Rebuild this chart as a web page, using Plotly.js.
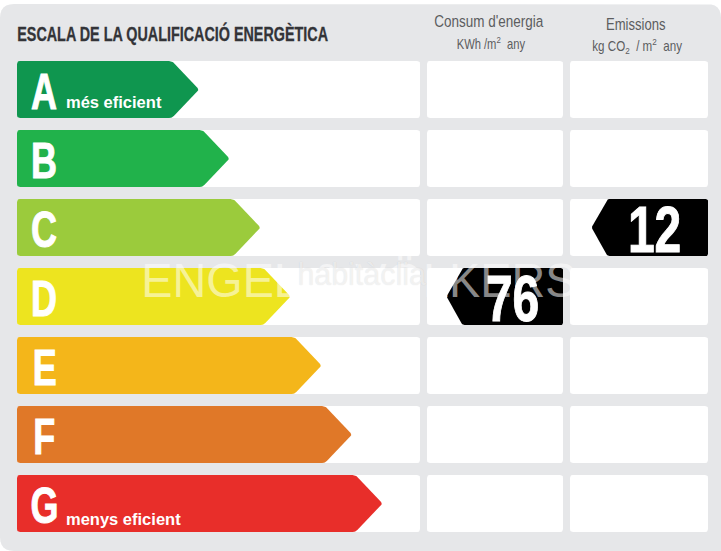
<!DOCTYPE html>
<html>
<head>
<meta charset="utf-8">
<script src="https://cdn.plot.ly/plotly-3.0.1.min.js"></script>
<style>html,body{margin:0;padding:0;background:#fff;overflow:hidden}#chart{width:721px;height:551px}</style>
</head>
<body>
<div id="chart"></div>
<script>
// ---- data ----
const grades = ['A','B','C','D','E','F','G'];
const gradeColors = ['#0f964f','#21b24b','#9bcb3c','#ede41f','#f4b61a','#e07828','#e82e2a'];
const arrowLengths = [182,212.5,243.5,273.5,304.5,335,365.5];
const gradeNotes = ['més eficient','','','','','','menys eficient'];
const consumValues = [null,null,null,76,null,null,null];
const emissionValues = [null,null,12,null,null,null,null];
const chartTitle = 'ESCALA DE LA QUALIFICACIÓ ENERGÈTICA';

// ---- layout constants (x axis is 1:1 with px, y axis is in rows) ----
const W = 721, H = 551, PITCH = 69, ROW0 = 89.5, HALF = 28.5, LEFT = 17, TIP = 27;
const COLS = [[17,420],[427,563],[570,708]];
const py = p => (p - ROW0) / PITCH;

function rounded(pts, radii){
  const xs = [], ys = [];
  pts.forEach((p,i) => {
    const n = pts.length, a = pts[(i+n-1)%n], b = pts[(i+1)%n];
    const r = Array.isArray(radii) ? radii[i] : radii;
    const la = Math.hypot(a[0]-p[0],a[1]-p[1]), lb = Math.hypot(b[0]-p[0],b[1]-p[1]);
    const s = [p[0]+(a[0]-p[0])*r/la, p[1]+(a[1]-p[1])*r/la];
    const e = [p[0]+(b[0]-p[0])*r/lb, p[1]+(b[1]-p[1])*r/lb];
    const N = r > 0 ? 6 : 1;
    for(let k=0;k<=N;k++){
      const t = k/N;
      xs.push((1-t)*(1-t)*s[0]+2*t*(1-t)*p[0]+t*t*e[0]);
      ys.push(py((1-t)*(1-t)*s[1]+2*t*(1-t)*p[1]+t*t*e[1]));
    }
  });
  xs.push(xs[0]); ys.push(ys[0]);
  return {x:xs,y:ys};
}
function poly(pts, radii, color){
  return Object.assign(rounded(pts,radii),{type:'scatter',mode:'lines',fill:'toself',
    fillcolor:color,line:{width:0,color:color},hoverinfo:'skip',showlegend:false});
}

const traces = [];
// panel
traces.push(poly([[0,4],[721,4],[721,551],[0,551]],[14,14,0,14],'#e6e7e9'));
// cells
grades.forEach((g,i)=>{
  const c = ROW0 + i*PITCH;
  COLS.forEach(col=>{
    traces.push(poly([[col[0],c-HALF],[col[1],c-HALF],[col[1],c+HALF],[col[0],c+HALF]],3,'#ffffff'));
  });
});
// rating arrows
grades.forEach((g,i)=>{
  const c = ROW0 + i*PITCH, tip = LEFT + arrowLengths[i];
  traces.push(poly([[LEFT,c-HALF],[tip-TIP,c-HALF],[tip,c],[tip-TIP,c+HALF],[LEFT,c+HALF]],[3,3,2,3,3],gradeColors[i]));
});
// result tags
function tag(values,col){
  values.forEach((v,i)=>{
    if(v===null) return;
    const c = ROW0 + i*PITCH, right = COLS[col][1], tipx = right-116.5, body = tipx+16;
    traces.push(poly([[tipx,c],[body,c-HALF],[right,c-HALF],[right,c+HALF],[body,c+HALF]],[1.5,2,2,2,2],'#000000'));
  });
}
tag(consumValues,1);
tag(emissionValues,2);

const SANS = '"Liberation Sans",Arial,sans-serif';
const GREY = '#5c5d5f';
const scales = [];
function note(text,x,yp,size,color,anchor,sx,extra,stroke){
  scales.push({sx:sx,origin:anchor==='left'?'left':'center',stroke:stroke||0,color:color});
  return {text:text,x:x,y:py(yp),xref:'x',yref:'y',showarrow:false,xanchor:anchor||'center',yanchor:'middle',
    align:'center',borderpad:0,borderwidth:0,font:Object.assign({size:size,color:color,family:SANS},extra||{})};
}
const ann = [];
ann.push(note('<b>'+chartTitle+'</b>',17,33,19.5,'#333438','left',0.737,null,0.3));
ann.push(note("Consum d'energia",488.5,21,17,GREY,'center',0.795));
ann.push(note('KWh /m<sup>2</sup>  any',490.5,42.5,14,GREY,'center',0.8));
ann.push(note('Emissions',635.5,24,17,GREY,'center',0.77));
ann.push(note('kg CO<sub>2</sub>  / m<sup>2</sup>  any',636.5,46,14,GREY,'center',0.83));
grades.forEach((g,i)=>{
  const c = ROW0 + i*PITCH;
  ann.push(note('<b>'+g+'</b>',44.3,c+2.5,50,'#ffffff','center',0.72,null,1));
  if(gradeNotes[i]) ann.push(note('<b>'+gradeNotes[i]+'</b>',65.5,c+(i===6?15.5:12.5),16.5,'#ffffff','left',1));
});
function tagText(values,col){
  values.forEach((v,i)=>{
    if(v===null) return;
    const c = ROW0 + i*PITCH;
    ann.push(note('<b>'+v+'</b>',COLS[col][1]-(col===1?50.5:53.5),c+(col===1?2.5:2),64,'#ffffff','center',0.75,null,1));
  });
}
tagText(consumValues,1);
tagText(emissionValues,2);
// watermarks
ann.push(note('ENGEL & VÖLKERS',359,279.5,49,'rgba(255,255,255,0.55)','center',0.955));
ann.push(note('habitàclia',361,274,32,'rgba(255,255,255,0.6)','center',0.95,{shadow:'0 0 1px rgba(0,0,0,0.22)'}));

Plotly.newPlot('chart',traces,{
  width:W,height:H,margin:{l:0,r:0,t:0,b:0,pad:0},
  paper_bgcolor:'#ffffff',plot_bgcolor:'#ffffff',showlegend:false,
  xaxis:{range:[0,W],visible:false,fixedrange:true},
  yaxis:{range:[py(H),py(0)],visible:false,fixedrange:true},
  annotations:ann
},{displayModeBar:false,staticPlot:true}).then(()=>{
  // no condensed face is installed, so squeeze the real text horizontally
  document.querySelectorAll('#chart .annotation-text').forEach((el,i)=>{
    const s = scales[i]; if(!s) return;
    el.style.transformBox = 'fill-box';
    el.style.transformOrigin = s.origin + ' center';
    el.style.transform = 'scaleX('+s.sx+')';
    if(s.stroke){ el.style.stroke = s.color; el.style.strokeWidth = s.stroke+'px'; }
  });
});
</script>
</body>
</html>
